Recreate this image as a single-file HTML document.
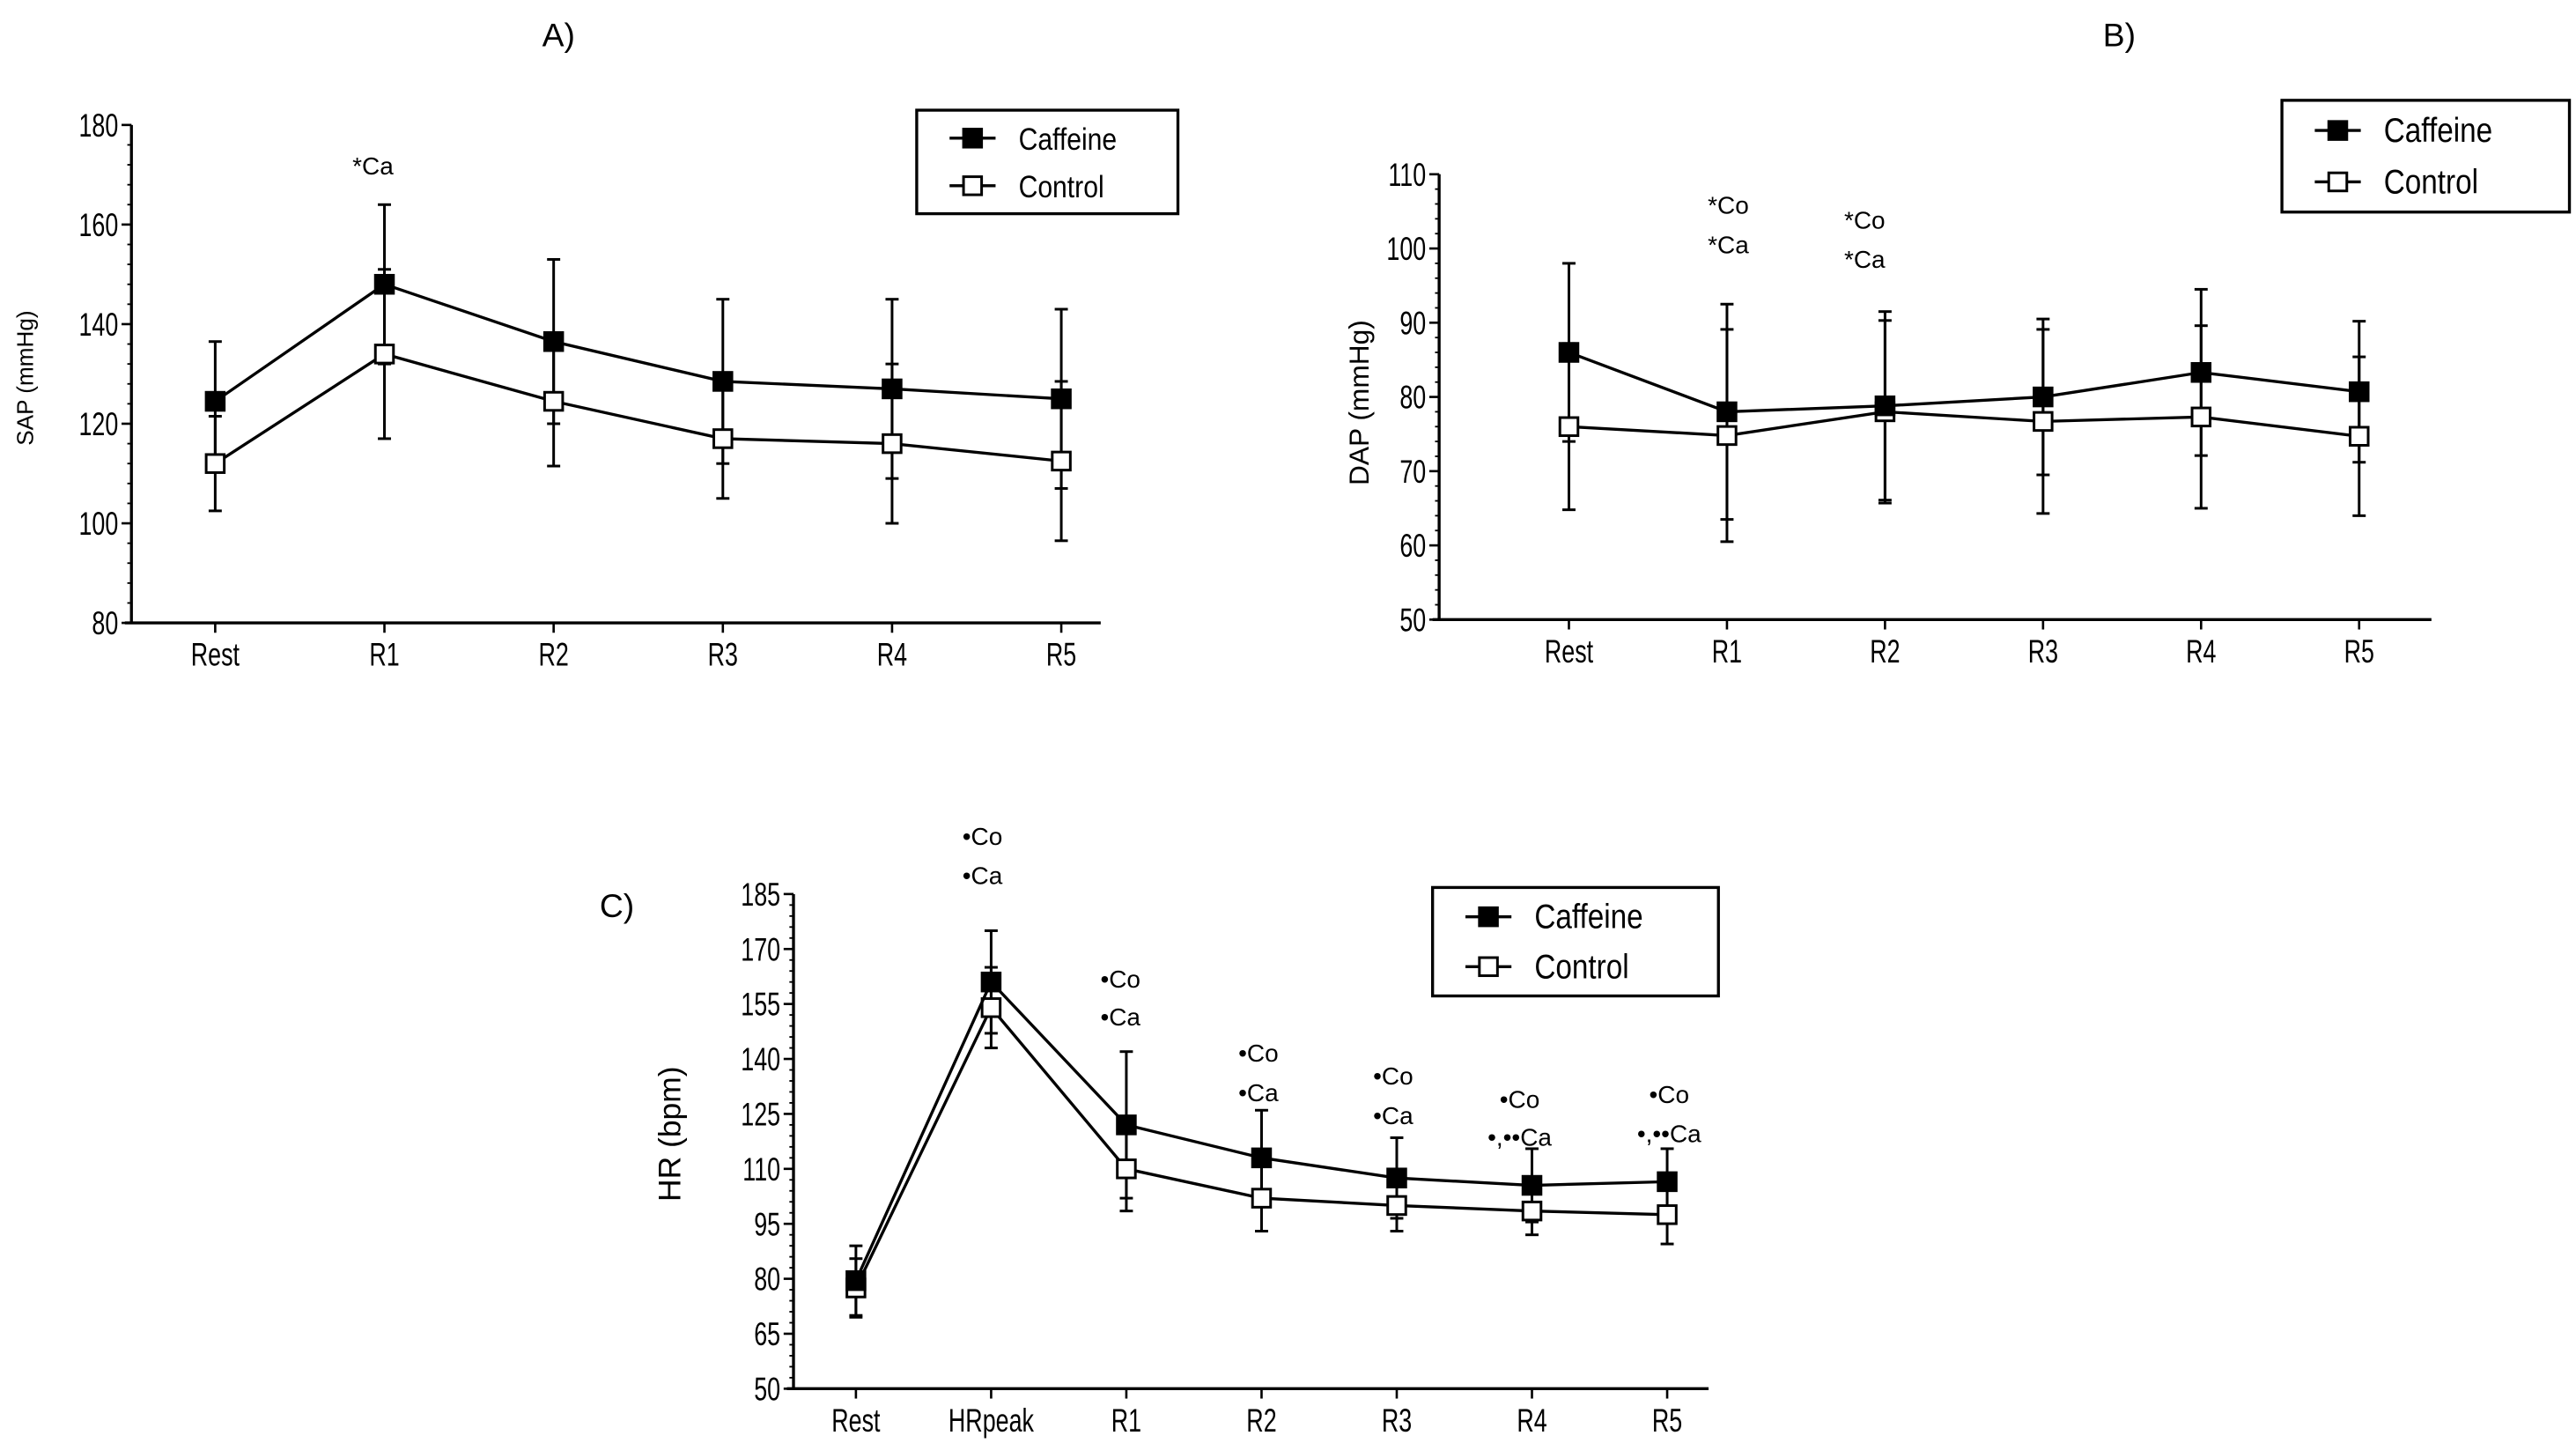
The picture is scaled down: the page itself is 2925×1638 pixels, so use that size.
<!DOCTYPE html>
<html><head><meta charset="utf-8"><style>
html,body{margin:0;padding:0;background:#fff;}
svg{display:block;}
text{font-family:"Liberation Sans",sans-serif;fill:#000;}
</style></head><body>
<svg id="fig" width="2925" height="1638" viewBox="0 0 1568 878" xmlns="http://www.w3.org/2000/svg"></svg>
<script>
// Panel A (SAP)
const catsA = ["Rest","R1","R2","R3","R4","R5"];
const cafA = [124.5,148,136.5,128.5,127,125];
const cafErrA = [12,16,16.5,16.5,18,18];
const conA = [112,134,124.5,117,116,112.5];
const conErrA = [9.5,17,13,12,16,16];
const ticksA = [80,100,120,140,160,180];
// Panel B (DAP)
const catsB = ["Rest","R1","R2","R3","R4","R5"];
const cafB = [86,78,78.8,80,83.3,80.7];
const cafErrB = [12,14.5,12.7,10.5,11.2,9.5];
const conB = [76,74.8,78,76.7,77.3,74.7];
const conErrB = [11.2,14.3,12.3,12.4,12.3,10.7];
const ticksB = [50,60,70,80,90,100,110];
// Panel C (HR)
const catsC = ["Rest","HRpeak","R1","R2","R3","R4","R5"];
const cafC = [79.5,161,122,113,107.5,105.5,106.5];
const cafErrC = [9.5,14,20,13,11,10,9];
const conC = [77.5,154,110,102,100,98.5,97.5];
const conErrC = [8,11,11.5,9,7,6.5,8];
const ticksC = [50,65,80,95,110,125,140,155,170,185];

const NS="http://www.w3.org/2000/svg";
const svg=document.getElementById('fig');
function el(tag,attrs,parent){const e=document.createElementNS(NS,tag);for(const k in attrs)e.setAttribute(k,attrs[k]);(parent||svg).appendChild(e);return e;}
function txt(x,y,s,size,parent,extra){const t=el('text',Object.assign({x:x,y:y,'font-size':size},extra||{}),parent);t.textContent=s;return t;}
function ntxt(x,y,s,size,parent,anchor){const t=el('text',{x:0,y:0,'font-size':size,'text-anchor':anchor,transform:'translate('+x+' '+y+') scale(0.72 1)'},parent);t.textContent=s;return t;}

function chart(id,cats,caf,cafErr,con,conErr,ticks,geo){
  const g=el('g',{});
  
  
  const lo=ticks[0],hi=ticks[ticks.length-1];
  const y=v=>geo.yB-(v-lo)/(hi-lo)*(geo.yB-geo.yT);
  const x=i=>geo.x0+i*geo.dx;
  const ya=el('line',{x1:geo.ax,y1:geo.yT,x2:geo.ax,y2:geo.yB,stroke:'#000','stroke-width':1.8},g);
  
  const xa=el('line',{x1:geo.ax-4,y1:geo.yB,x2:geo.xEnd,y2:geo.yB,stroke:'#000','stroke-width':1.8},g);
  
  const step=(ticks[1]-ticks[0])/geo.minor;
  for(let v=lo;v<=hi+1e-6;v+=step){el('line',{x1:geo.ax-2.5,y1:y(v),x2:geo.ax,y2:y(v),stroke:'#000','stroke-width':1},g);}
  ticks.forEach(v=>{
    el('line',{x1:geo.ax-6,y1:y(v),x2:geo.ax,y2:y(v),stroke:'#000','stroke-width':1.4},g);
    const t=ntxt(geo.ax-8,y(v)+7,String(v),20,g,'end');
    
  });
  cats.forEach((c,i)=>{
    el('line',{x1:x(i),y1:geo.yB,x2:x(i),y2:geo.yB+6,stroke:'#000','stroke-width':1.4},g);
    const t=ntxt(x(i),geo.yB+26,c,20,g,'middle');
    
  });
  function errs(vals,e,name){
    vals.forEach((v,i)=>{
      const eg=el('g',{stroke:'#000','stroke-width':1.6},g);
      
      
      el('line',{x1:x(i),y1:y(v+e[i]),x2:x(i),y2:y(v-e[i])},eg);
      el('line',{x1:x(i)-4,y1:y(v+e[i]),x2:x(i)+4,y2:y(v+e[i])},eg);
      el('line',{x1:x(i)-4,y1:y(v-e[i]),x2:x(i)+4,y2:y(v-e[i])},eg);
    });
  }
  errs(caf,cafErr,'caffeine');errs(con,conErr,'control');
  function line(vals,name,fill){
    const p=el('polyline',{points:vals.map((v,i)=>x(i)+','+y(v)).join(' '),fill:'none',stroke:'#000','stroke-width':1.8},g);
    
    vals.forEach((v,i)=>{
      const r=el('rect',{x:x(i)-5.5,y:y(v)-5.5,width:11,height:11,fill:fill,stroke:'#000','stroke-width':1.6},g);
      
    });
  }
  line(con,'control','#fff');line(caf,'caffeine','#000');
  const L=geo.leg;
  const lg=el('g',{},g);
  
  el('rect',{x:L[0],y:L[1],width:L[2],height:L[3],fill:'#fff',stroke:'#000','stroke-width':1.8},lg);
  const rows=[['Caffeine','#000'],['Control','#fff']];
  rows.forEach((r,k)=>{
    const ly=L[1]+L[3]*(0.27+0.46*k);
    const le=el('g',{},lg);
    
    el('line',{x1:L[0]+20,y1:ly,x2:L[0]+48,y2:ly,stroke:'#000','stroke-width':1.8},le);
    el('rect',{x:L[0]+28.5,y:ly-5.5,width:11,height:11,fill:r[1],stroke:'#000','stroke-width':1.6},le);
    ntxt(L[0]+62,ly+7,r[0],geo.legFont,le,'start').setAttribute('transform','translate('+(L[0]+62)+' '+(ly+7)+') scale(0.85 1)');
  });
  return {g,x,y};
}

chart('sap',catsA,cafA,cafErrA,conA,conErrA,ticksA,{ax:80,yT:76,yB:379,x0:131,dx:103,xEnd:670,minor:5,leg:[558,67,159,63],legFont:19});
chart('dap',catsB,cafB,cafErrB,conB,conErrB,ticksB,{ax:876,yT:106,yB:377,x0:955,dx:96.2,xEnd:1480,minor:5,leg:[1389,61,175,68],legFont:21});
chart('hr',catsC,cafC,cafErrC,conC,conErrC,ticksC,{ax:483,yT:544,yB:845,x0:521,dx:82.3,xEnd:1040,minor:5,leg:[872,540,174,66],legFont:21});

function lab(x,y,s,size,name,extra){const t=txt(x,y,s,size,svg,extra);return t;}
lab(330,28,'A)',20,'panel-a-title');
lab(1280,28,'B)',20,'panel-b-title');
lab(365,558,'C)',20,'panel-c-title');
lab(20,230,'SAP (mmHg)',14,'sap-y-axis-title',{'text-anchor':'middle',transform:'rotate(-90 20 230)'});
lab(833,245,'DAP (mmHg)',17,'dap-y-axis-title',{'text-anchor':'middle',transform:'rotate(-90 833 245)'});
lab(414,690,'HR (bpm)',19,'hr-y-axis-title',{'text-anchor':'middle',transform:'rotate(-90 414 690)'});
const ann=[[227,106,'*Ca'],[1052,130,'*Co'],[1052,154,'*Ca'],[1135,139,'*Co'],[1135,163,'*Ca'],
[598,514,'•Co'],[598,538,'•Ca'],[682,601,'•Co'],[682,624,'•Ca'],[766,646,'•Co'],[766,670,'•Ca'],
[848,660,'•Co'],[848,684,'•Ca'],[925,674,'•Co'],[925,697,'•,••Ca'],[1016,671,'•Co'],[1016,695,'•,••Ca']];
ann.forEach(a=>lab(a[0],a[1],a[2],16,'significance-annotation',{'text-anchor':'middle','font-family':'DejaVu Sans, sans-serif','font-size':15}));
</script>
</body></html>
